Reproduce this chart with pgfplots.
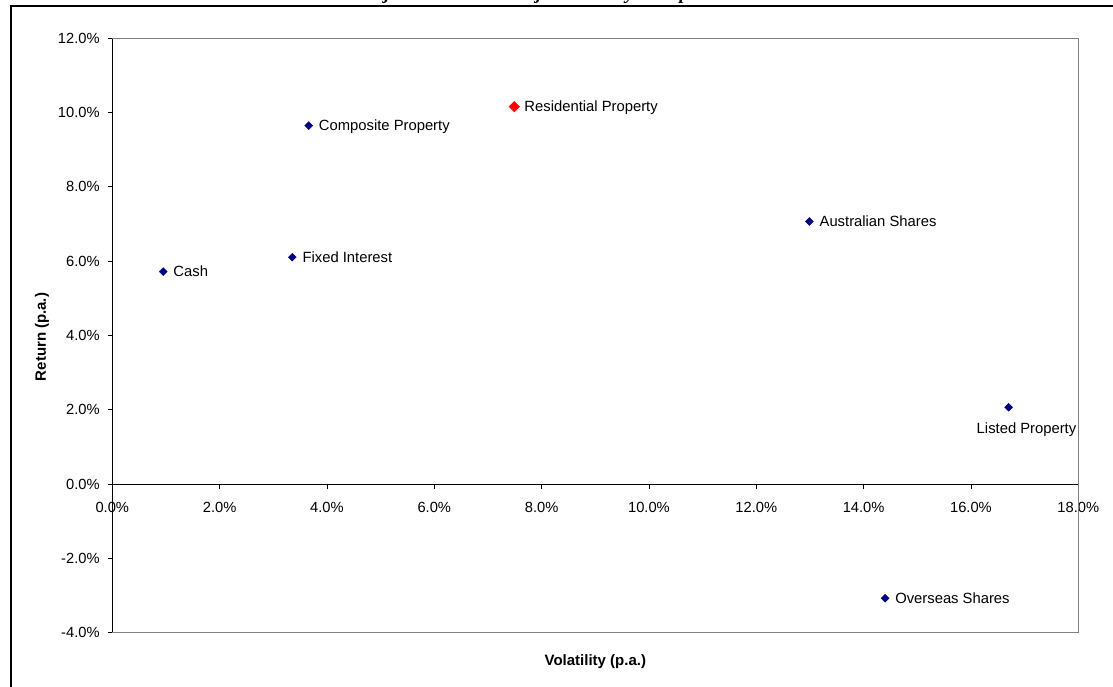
\documentclass[border=0pt]{standalone}
\usepackage{pgfplots}
\pgfplotsset{compat=1.18}
\usepackage{fontspec}
\setmainfont{Liberation Sans}
\newfontfamily\titlefont{Liberation Serif}
\definecolor{navy}{RGB}{0,0,128}
\definecolor{xlred}{RGB}{255,0,0}
\definecolor{xlgray}{RGB}{128,128,128}
\begin{document}
\begin{tikzpicture}[x=1pt,y=1pt]
% title (cut off by the page edge, as in the reference)
\node[anchor=base west, inner sep=0pt, font=\titlefont\bfseries\itshape\fontsize{18.9}{20}\selectfont] at (323,686.5) {Risk Adjusted Returns: Major Assets by Group};
% outer frame
\draw[line width=2.6pt] (11,-30) -- (11,680) -- (1140,680);
\begin{axis}[
  at={(112.3pt,53.2pt)}, anchor=south west,
  scale only axis, width=966pt, height=594.5pt,
  xmin=0, xmax=18, ymin=-4, ymax=12,
  axis x line=middle, axis y line=left,
  axis line style={-, black, line width=0.9pt},
  xtick={0,2,4,6,8,10,12,14,16,18},
  xticklabels={0.0\%,2.0\%,4.0\%,6.0\%,8.0\%,10.0\%,12.0\%,14.0\%,16.0\%,18.0\%},
  ytick={-4,-2,0,2,4,6,8,10,12},
  yticklabels={-4.0\%,-2.0\%,0.0\%,2.0\%,4.0\%,6.0\%,8.0\%,10.0\%,12.0\%},
  tick align=outside, major tick length=4.5pt,
  tick style={black, line width=0.9pt},
  hide obscured x ticks=false, hide obscured y ticks=false,
  tick label style={font=\fontsize{14.7}{16}\selectfont, inner sep=0pt},
  xticklabel style={anchor=north, yshift=-13pt},
  yticklabel style={anchor=east, xshift=-8pt},
  clip=false,
  point meta=explicit symbolic,
  nodes near coords,
  nodes near coords style={anchor=base west, inner sep=0pt, xshift=10pt, yshift=-5pt, text=black, font=\fontsize{14.8}{16}\selectfont},
]
\draw[xlgray, line width=1.3pt] (rel axis cs:0,1) -- (rel axis cs:1,1) -- (rel axis cs:1,0) -- (rel axis cs:0,0);
\addplot[only marks, mark=square*, mark size=2.8pt, mark options={rotate=45, navy, fill=navy}] coordinates {
  (0.95,5.72) [Cash]
  (3.355,6.11) [Fixed Interest]
  (3.66,9.65) [Composite Property]
  (12.99,7.07) [Australian Shares]
  (14.40,-3.07) [Overseas Shares]
};
\addplot[only marks, mark=square*, mark size=2.8pt, mark options={rotate=45, navy, fill=navy},
  nodes near coords style={xshift=-42pt, yshift=-21pt}] coordinates {
  (16.70,2.07) [Listed Property]
};
\addplot[only marks, mark=square*, mark size=3.75pt, mark options={rotate=45, xlred, fill=xlred}] coordinates {
  (7.49,10.16) [Residential Property]
};
\end{axis}
\node[rotate=90, font=\bfseries\fontsize{15}{17}\selectfont] at (42,349) {Return (p.a.)};
\node[font=\bfseries\fontsize{15}{17}\selectfont] at (595.3,24) {Volatility (p.a.)};
\pgfresetboundingbox
\path[use as bounding box] (0,0) rectangle (1113,686);
\end{tikzpicture}
\end{document}
